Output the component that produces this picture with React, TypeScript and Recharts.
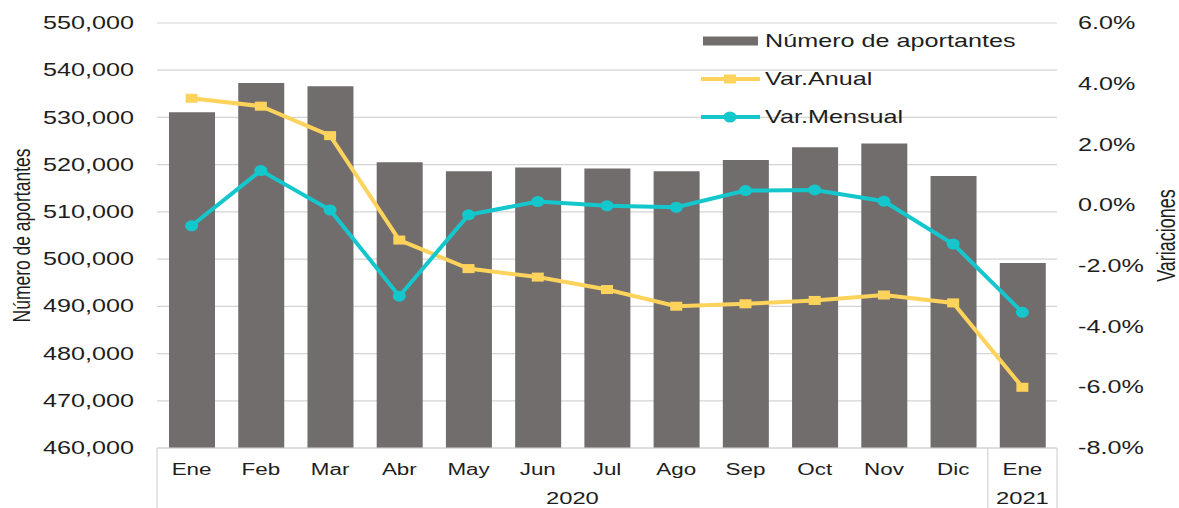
import React from 'react';
import { ComposedChart, Bar, Line, XAxis, YAxis, CartesianGrid, Legend, Label } from 'recharts';

// chart values
const months = ['Ene', 'Feb', 'Mar', 'Abr', 'May', 'Jun', 'Jul', 'Ago', 'Sep', 'Oct', 'Nov', 'Dic', 'Ene'];
const years = ['2020', '2020', '2020', '2020', '2020', '2020', '2020', '2020', '2020', '2020', '2020', '2020', '2021'];
const aportantes = [531100, 537300, 536600, 520500, 518600, 519400, 519200, 518600, 521000, 523700, 524500, 517600, 499200];
const varAnual = [3.52, 3.26, 2.29, -1.15, -2.09, -2.37, -2.78, -3.33, -3.25, -3.14, -2.96, -3.22, -6.0];
const varMensual = [-0.68, 1.14, -0.16, -3.0, -0.32, 0.12, -0.02, -0.07, 0.48, 0.5, 0.13, -1.28, -3.53];
const leftTicks = [460000, 470000, 480000, 490000, 500000, 510000, 520000, 530000, 540000, 550000];
const rightTicks = [-8, -6, -4, -2, 0, 2, 4, 6];

const W = 1179;
const H = 508;
const LEFT_W = 157;
const RIGHT_W = 122;
const TOP = 23;
const X_H = 60;
const BAND = (W - LEFT_W - RIGHT_W) / months.length;

const BAR = '#726d6d';
const YEL = '#fdd35c';
const CYAN = '#14c7cd';
const GRID = '#d4d4d4';
const TXT = '#1e1e1e';
const FONT = '"Liberation Sans", Arial, sans-serif';
const SX = 1.4; // the source picture has horizontally stretched type

const data = months.map((m, i) => ({
  month: m,
  year: years[i],
  aportantes: aportantes[i],
  anual: varAnual[i],
  mensual: varMensual[i],
}));

const Stretch = ({ x, y, anchor, size, rotate, children }: any) => (
  <text
    transform={`translate(${x},${y}) scale(${SX},1)${rotate ? ' rotate(-90)' : ''}`}
    textAnchor={anchor}
    dominantBaseline="central"
    fontSize={size}
    fontFamily={FONT}
    fill={TXT}
  >
    {children}
  </text>
);

const LeftTick = ({ x, y, payload }: any) => (
  <Stretch x={x} y={y} anchor="end" size={18}>{payload.value.toLocaleString('en-US')}</Stretch>
);

const RightTick = ({ x, y, payload }: any) => (
  <Stretch x={x} y={y} anchor="start" size={18}>{`${payload.value.toFixed(1)}%`}</Stretch>
);

const MonthTick = (props: any) => {
  const { x, y, payload } = props;
  const i = props.index ?? payload.index;
  const half = BAND / 2;
  const yearStart = i === 0 || years[i] !== years[i - 1];
  let yearLabel = null;
  if (yearStart) {
    let j = i;
    while (j + 1 < years.length && years[j + 1] === years[i]) j++;
    yearLabel = (
      <Stretch x={x + ((j - i) * BAND) / 2} y={y + 50} anchor="middle" size={17}>{years[i]}</Stretch>
    );
  }
  return (
    <g>
      <Stretch x={x} y={y + 21} anchor="middle" size={16}>{payload.value}</Stretch>
      {yearLabel}
      {yearStart && <line x1={x - half} x2={x - half} y1={y} y2={y + X_H} stroke={GRID} strokeWidth={1.2} />}
      {i === years.length - 1 && <line x1={x + half} x2={x + half} y1={y} y2={y + X_H} stroke={GRID} strokeWidth={1.2} />}
    </g>
  );
};

const SquareDot = (p: any) =>
  p.cx == null ? null : <rect key={`a${p.index}`} x={p.cx - 6} y={p.cy - 4.5} width={12} height={9} fill={YEL} />;

const CircleDot = (p: any) =>
  p.cx == null ? null : <ellipse key={`m${p.index}`} cx={p.cx} cy={p.cy} rx={6.5} ry={5.5} fill={CYAN} />;

const legendItems = [
  { key: 'aportantes', label: 'Número de aportantes', kind: 'bar', color: BAR },
  { key: 'anual', label: 'Var.Anual', kind: 'square', color: YEL },
  { key: 'mensual', label: 'Var.Mensual', kind: 'circle', color: CYAN },
];

const renderLegend = () => (
  <svg width={360} height={115}>
    {legendItems.map((it, k) => {
      const cy = 19 + k * 38;
      return (
        <g key={it.key}>
          {it.kind === 'bar' ? (
            <rect x={8} y={cy - 4.5} width={55} height={9} fill={it.color} />
          ) : (
            <g>
              <line x1={6} x2={65} y1={cy} y2={cy} stroke={it.color} strokeWidth={4} />
              {it.kind === 'square' ? (
                <rect x={29} y={cy - 4.5} width={12} height={9} fill={it.color} />
              ) : (
                <ellipse cx={35} cy={cy} rx={6.5} ry={5.5} fill={it.color} />
              )}
            </g>
          )}
          <Stretch x={70} y={cy} anchor="start" size={18}>{it.label}</Stretch>
        </g>
      );
    })}
  </svg>
);

export default function App() {
  return (
    <div style={{ position: 'absolute', left: 0, top: 0, width: W, height: H, background: '#fff' }}>
      <ComposedChart width={W} height={H} data={data} margin={{ top: TOP, right: 0, bottom: 0, left: 0 }} barSize={46}>
        <CartesianGrid vertical={false} stroke={GRID} strokeWidth={1.2} yAxisId="left" />
        <XAxis
          dataKey="month"
          height={X_H}
          tickLine={false}
          tickSize={0}
          tickMargin={0}
          interval={0}
          axisLine={{ stroke: GRID, strokeWidth: 1.2 }}
          tick={<MonthTick />}
        />
        <YAxis
          yAxisId="left"
          width={LEFT_W}
          domain={[460000, 550000]}
          ticks={leftTicks}
          axisLine={false}
          tickLine={false}
          tickSize={0}
          tickMargin={23}
          tick={<LeftTick />}
        >
          <Label
            content={(p: any) => (
              <Stretch x={p.viewBox.x + 22} y={p.viewBox.y + p.viewBox.height / 2} anchor="middle" size={17.5} rotate>
                Número de aportantes
              </Stretch>
            )}
          />
        </YAxis>
        <YAxis
          yAxisId="right"
          orientation="right"
          width={RIGHT_W}
          domain={[-8, 6]}
          ticks={rightTicks}
          axisLine={false}
          tickLine={false}
          tickSize={0}
          tickMargin={21}
          tick={<RightTick />}
        >
          <Label
            content={(p: any) => (
              <Stretch x={p.viewBox.x + 109} y={p.viewBox.y + p.viewBox.height / 2} anchor="middle" size={18} rotate>
                Variaciones
              </Stretch>
            )}
          />
        </YAxis>
        <Legend
          layout="vertical"
          align="center"
          verticalAlign="middle"
          content={renderLegend}
          wrapperStyle={{ top: 22, left: 695, width: 360, height: 115 }}
        />
        <Bar yAxisId="left" dataKey="aportantes" name="Número de aportantes" fill={BAR} isAnimationActive={false} />
        <Line
          yAxisId="right"
          dataKey="anual"
          name="Var.Anual"
          stroke={YEL}
          strokeWidth={4}
          dot={SquareDot}
          activeDot={false}
          isAnimationActive={false}
        />
        <Line
          yAxisId="right"
          dataKey="mensual"
          name="Var.Mensual"
          stroke={CYAN}
          strokeWidth={4}
          dot={CircleDot}
          activeDot={false}
          isAnimationActive={false}
        />
      </ComposedChart>
    </div>
  );
}
